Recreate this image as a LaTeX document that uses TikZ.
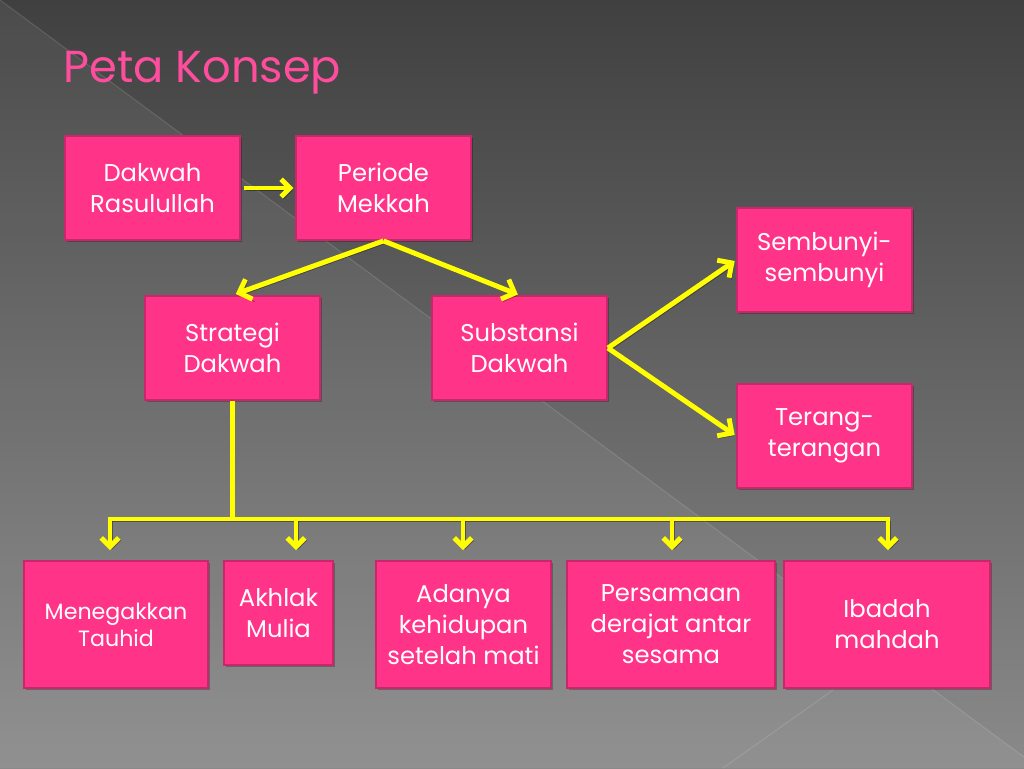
\documentclass[tikz,border=0pt]{standalone}
\usepackage{fontspec}
\setmainfont{Poppins}
\usetikzlibrary{arrows.meta,positioning}

\definecolor{boxpink}{HTML}{FF3388}
\definecolor{boxline}{HTML}{C8286A}
\definecolor{linkyellow}{HTML}{FFFF00}
\definecolor{titlepink}{HTML}{FF4D9E}
\definecolor{bgtop}{HTML}{404040}
\definecolor{bgbottom}{HTML}{8A8A8A}

\newcommand{\boxfont}{\fontsize{13.8}{17.6}\selectfont}
\newcommand{\smallboxfont}{\fontsize{12.6}{15.4}\selectfont}
\newcommand{\titlefont}{\fontsize{25.5}{30}\selectfont}

\begin{document}
\begin{tikzpicture}[
        x=0.02cm, y=-0.02cm,
        box/.style={rectangle, draw=boxline, line width=1pt, fill=boxpink, text=white, align=center, font=\boxfont,
            minimum width=3.5cm, minimum height=2.08cm, inner sep=2pt,
            preaction={fill=black, opacity=0.25, transform canvas={shift={(1pt,-1pt)}}}},
        tall/.style={minimum height=2.54cm},
        link/.style={draw=linkyellow, line width=2.8pt,
            preaction={draw=black, opacity=0.35, transform canvas={shift={(1.2pt,-1.4pt)}}}},
        arrow/.style={link, -{Straight Barb[length=5pt, width=10pt]}},
        bigarrow/.style={link, -{Straight Barb[length=6pt, width=12pt]}}
    ]
        % background
        \useasboundingbox (0,0) rectangle (1024,768);
        \fill[top color=bgtop, bottom color=bgbottom] (0,0) rectangle (1024,768);
        \fill[white, opacity=0.06] (0,0) -- (1024,757) -- (1024,768) -- (0,768) -- cycle;
        \draw[white, opacity=0.12, line width=0.6pt] (0,0) -- (1024,757);
        \draw[white, opacity=0.12, line width=0.6pt] (833,690) -- (723,768);

        \node[anchor=base west, text=titlepink, font=\titlefont, inner sep=0pt] (title) at (63,82) {Peta Konsep};

        \node[box] (rasul) at (152.5,188) {Dakwah\\Rasulullah};
        \node[box] (mekkah) at (383.5,188) {Periode\\Mekkah};
        \node[box] (strategi) at (232.5,348) {Strategi\\Dakwah};
        \node[box] (substansi) at (519.5,348) {Substansi\\Dakwah};
        \node[box] (sembunyi) at (824.5,260) {Sembunyi-\\sembunyi};
        \node[box] (terang) at (824.5,436) {Terang-\\terangan};

        \node[box, tall, minimum width=3.68cm, font=\smallboxfont] (tauhid) at (116,624.5) {Menegakkan\\Tauhid};
        \node[box, minimum width=2.18cm] (akhlak) at (278.5,613) {Akhlak\\Mulia};
        \node[box, tall] (akhirat) at (463.5,624.5) {Adanya\\kehidupan\\setelah mati};
        \node[box, tall, minimum width=4.16cm] (derajat) at (671,624.5) {Persamaan\\derajat antar\\sesama};
        \node[box, tall, minimum width=4.12cm] (ibadah) at (887,624.5) {Ibadah\\mahdah};

        \draw[arrow, shorten <=2pt, shorten >=1pt] (rasul) -- (mekkah);
        \draw[bigarrow, shorten >=2pt] (mekkah.south) -- (strategi.north);
        \draw[bigarrow, shorten >=1pt] (mekkah.south) -- (substansi.north);
        \draw[bigarrow, shorten >=1pt] (substansi.east) -- (sembunyi.west);
        \draw[bigarrow, shorten >=1pt] (substansi.east) -- (terang.west);

        % bus to the five points
        \coordinate (bus) at (232.5,519);
        \coordinate (b1) at (110,519);
        \coordinate (b2) at (296,519);
        \coordinate (b3) at (463,519);
        \coordinate (b4) at (672,519);
        \coordinate (b5) at (888,519);
        \draw[link] (strategi) -- (bus);
        \draw[link, line cap=rect] (b1) -- (b5);
        \draw[arrow, shorten >=5.7pt] (b1) -- (b1 |- tauhid.north);
        \draw[arrow, shorten >=5.7pt] (b2) -- (b2 |- akhlak.north);
        \draw[arrow, shorten >=5.7pt] (b3) -- (b3 |- akhirat.north);
        \draw[arrow, shorten >=5.7pt] (b4) -- (b4 |- derajat.north);
        \draw[arrow, shorten >=5.7pt] (b5) -- (b5 |- ibadah.north);
    \end{tikzpicture}
\end{document}
